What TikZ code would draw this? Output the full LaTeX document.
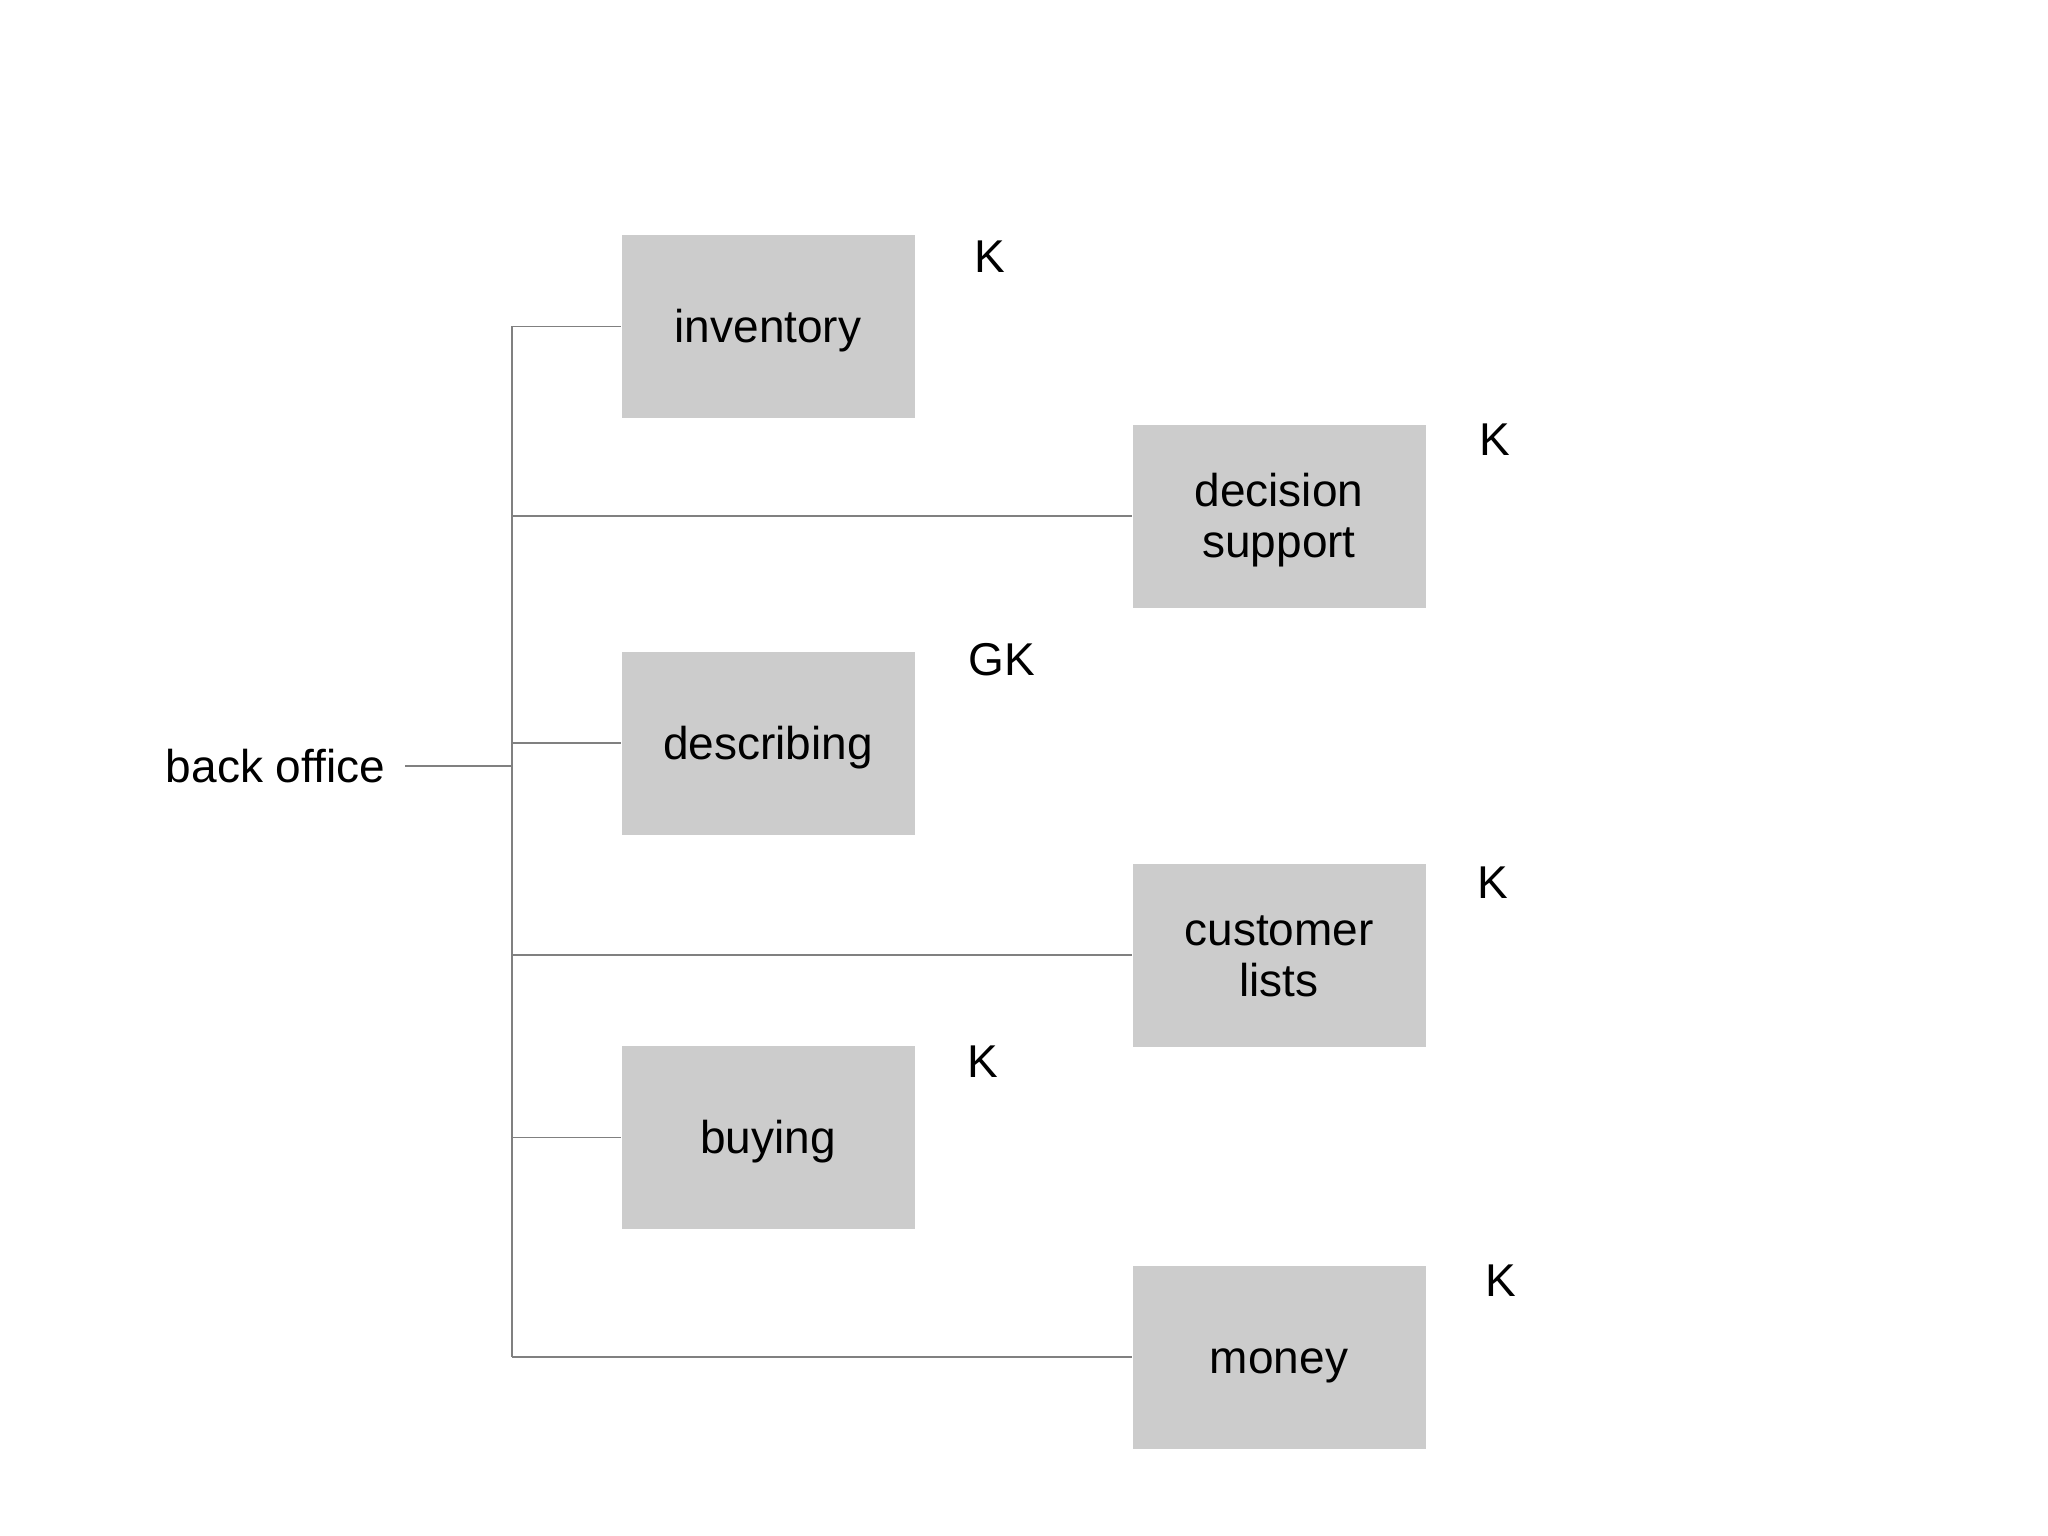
\documentclass[tikz,border=0pt]{standalone}
\usepackage{fontspec}
\setmainfont{Liberation Sans}
\definecolor{boxgray}{HTML}{CCCCCC}
\definecolor{linegray}{HTML}{808080}
\newcommand\bxline[1]{\rule[-0.5pt]{0pt}{17pt}\smash{#1}}
\tikzset{
  leaf/.style={fill=boxgray, draw=none, inner sep=0pt, minimum width=146.5pt, minimum height=91.5pt, align=center, font=\fontsize{23}{25.85}\selectfont},
  tag/.style={inner sep=0pt, font=\fontsize{23}{25.85}\selectfont},
  conn/.style={draw=linegray, line width=0.7pt}
}
\begin{document}
\begin{tikzpicture}[x=0.5pt,y=-0.5pt]
\useasboundingbox (0,0) rectangle (2048,1535);
\node[tag, outer xsep=10pt] (bo) at (275.5,766) {back office};
\node[leaf] (inv) at (768,326.5) {\bxline{inventory}};
\node[leaf] (dec) at (1279,516) {\bxline{decision}\\\bxline{support}};
\node[leaf] (des) at (768,743) {\bxline{describing}};
\node[leaf] (cus) at (1279,955) {\bxline{customer}\\\bxline{lists}};
\node[leaf] (buy) at (768,1137.5) {\bxline{buying}};
\node[leaf] (mon) at (1279,1357) {\bxline{money}};
\node[tag] (k1) at (990,257) {K};
\node[tag] (k2) at (1495,440) {K};
\node[tag] (k3) at (1002,659.5) {GK};
\node[tag] (k4) at (1493,883) {K};
\node[tag] (k5) at (983,1062) {K};
\node[tag] (k6) at (1500.6,1281) {K};
\coordinate (ttop) at (512,326.5);
\coordinate (tbot) at (512,1357);
\draw[conn] (ttop) -- (tbot);
\draw[conn] (bo.east) -- (bo.east -| ttop);
\draw[conn] (ttop) -- (inv.west);
\draw[conn] (dec.west -| ttop) -- (dec.west);
\draw[conn] (des.west -| ttop) -- (des.west);
\draw[conn] (cus.west -| ttop) -- (cus.west);
\draw[conn] (buy.west -| ttop) -- (buy.west);
\draw[conn] (tbot) -- (mon.west);
\end{tikzpicture}
\end{document}
